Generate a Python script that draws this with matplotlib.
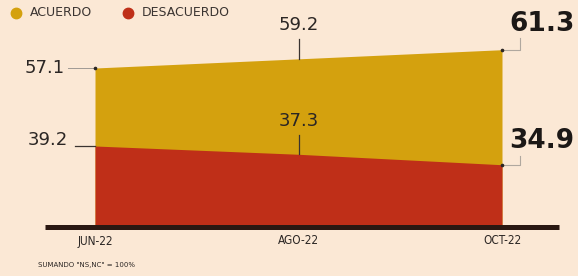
import matplotlib
matplotlib.use("Agg")
import matplotlib.pyplot as plt

# data
months = ["JUN-22", "AGO-22", "OCT-22"]
acuerdo = [57.1, 59.2, 61.3]
desacuerdo = [39.2, 37.3, 34.9]
legend_labels = ["ACUERDO", "DESACUERDO"]
note = 'SUMANDO "NS,NC" = 100%'

bg = "#fbe8d5"
c_yellow = "#d4a10e"
c_red = "#bf2f18"
c_text = "#2b2624"

W, H = 578, 276
fig = plt.figure(figsize=(W / 100, H / 100), dpi=100)
fig.patch.set_facecolor(bg)
ax = fig.add_axes([0, 0, 1, 1])
ax.set_facecolor(bg)
ax.axis("off")

x = list(range(len(months)))
# map data to pixels: x=0 -> 95px, x=2 -> 502px ; 57.1 -> 68px, 39.2 -> 146px
sx = 2 / 407.0
sy = (57.1 - 39.2) / (146 - 68.0)
ax.set_xlim(-95 * sx, 2 + (W - 502) * sx)
ax.set_ylim(57.1 - (H - 68) * sy, 57.1 + 68 * sy)
base = 57.1 - (227 - 68) * sy

ax.fill_between(x, base, acuerdo, color=c_yellow, lw=0)
ax.fill_between(x, base, desacuerdo, color=c_red, lw=0)
ax.hlines(base, -50 * sx, 2 + 57 * sx, color="#2a1812", lw=3.6, zorder=5)

# first point labels (left)
ax.plot([x[0] - 27 * sx, x[0]], [acuerdo[0]] * 2, color="#a09a94", lw=0.7)
ax.plot([x[0]], [acuerdo[0]], "o", ms=1.6, color=c_text)
ax.annotate("%.1f" % acuerdo[0], (x[0], acuerdo[0]), xytext=(-30, 0),
            textcoords="offset pixels", ha="right", va="center",
            fontsize=13, color=c_text)
ax.plot([x[0] - 20 * sx, x[0]], [desacuerdo[0]] * 2, color="#3a3330", lw=0.9)
ax.annotate("%.1f" % desacuerdo[0], (x[0], desacuerdo[0]), xytext=(-27, 6),
            textcoords="offset pixels", ha="right", va="center",
            fontsize=13, color=c_text)

# middle labels
for v, gap in [(acuerdo[1], 20), (desacuerdo[1], 19)]:
    ax.plot([x[1], x[1]], [v, v + gap * sy], color="#3a3330", lw=0.9)
    ax.annotate("%.1f" % v, (x[1], v), xytext=(0, gap + 14),
                textcoords="offset pixels", ha="center", va="center",
                fontsize=13, color=c_text)

# last point labels (bold, right)
for v, up, dy in [(acuerdo[2], 12, 26), (desacuerdo[2], 9, 24)]:
    ax.plot([x[2], x[2] + 18 * sx, x[2] + 18 * sx],
            [v, v, v + up * sy], color="#b0a89f", lw=0.8)
    ax.plot([x[2]], [v], "o", ms=1.6, color=c_text)
    ax.annotate("%.1f" % v, (x[2], v), xytext=(40, dy),
                textcoords="offset pixels", ha="center", va="center",
                fontsize=19, fontweight="bold", color="#1c1816")

# month labels
for xi, m in zip(x, months):
    ax.annotate(m, (xi, base), xytext=(0, -14), textcoords="offset pixels",
                ha="center", va="center", fontsize=8.5, color=c_text,
                family=["Liberation Sans Narrow", "DejaVu Sans"],
                fontstretch="condensed")

# legend
for px, col, lab in [(16, c_yellow, legend_labels[0]), (128, c_red, legend_labels[1])]:
    ax.plot([px / W], [1 - 13 / H], "o", ms=7.5, color=col,
            transform=fig.transFigure, clip_on=False)
    fig.text((px + 14) / W, 1 - 13 / H, lab, ha="left", va="center",
             fontsize=9, color="#3b3431")

fig.text(38 / W, 1 - 265 / H, note, ha="left", va="center",
         fontsize=5, color=c_text,
         family=["Liberation Sans Narrow", "DejaVu Sans"])

fig.savefig("out.png", dpi=100, facecolor=bg)
